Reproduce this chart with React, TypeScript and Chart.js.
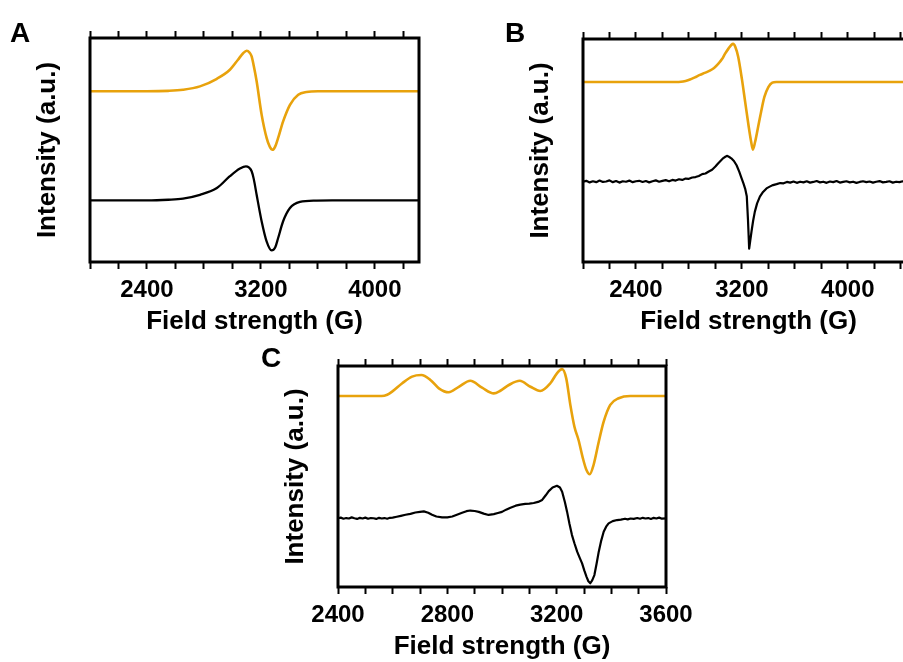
import React, { useEffect, useRef } from 'react';
import { Chart, registerables } from 'chart.js';

Chart.register(...registerables);

const ORANGE = '#E8A20C';
const BLACK = '#000000';
const FONT = "'Liberation Sans', Arial, Helvetica, sans-serif";

// ---------- Panel A ----------
const aSimField = [2000, 2400, 2550, 2653, 2772, 2891, 2982, 3039, 3075, 3100, 3120, 3135, 3150, 3170, 3205, 3240, 3262, 3282, 3300, 3321, 3356, 3404, 3462, 3520, 3600, 4310];
const aSimIntensity = [76.2, 76.2, 76.4, 76.9, 78.4, 81.8, 85.8, 90.3, 93.2, 94.3, 93.5, 91.8, 87.5, 80.7, 65.8, 55.4, 51.5, 50.1, 51.5, 55.4, 62.8, 70.2, 74.7, 75.9, 76.2, 76.2];
const aExpField = [2000, 2400, 2550, 2653, 2772, 2891, 2982, 3053, 3095, 3115, 3135, 3150, 3170, 3205, 3240, 3275, 3300, 3321, 3356, 3404, 3474, 3591, 3700, 4310];
const aExpIntensity = [27.5, 27.5, 27.8, 28.3, 30.0, 33.0, 38.3, 41.7, 42.7, 42.2, 40.5, 37.0, 30.0, 18.2, 9.2, 5.2, 6.5, 10.7, 18.2, 24.1, 26.8, 27.4, 27.5, 27.5];

// ---------- Panel B ----------
const bSimField = [2000, 2700, 2740, 2775, 2808, 2845, 2883, 2920, 2958, 2990, 3021, 3050, 3072, 3100, 3120, 3134, 3150, 3172, 3200, 3225, 3250, 3270, 3283, 3300, 3320, 3345, 3370, 3400, 3430, 3460, 4500];
const bSimIntensity = [80.7, 80.7, 80.8, 81.2, 81.8, 82.8, 83.9, 84.8, 85.8, 87.0, 88.8, 91.0, 93.3, 95.8, 97.3, 97.8, 96.5, 92.0, 82.1, 71.7, 61.3, 53.9, 50.4, 53.9, 59.8, 67.3, 74.0, 78.4, 80.4, 80.7, 80.7];
const bExpField = [2000, 2025, 2050, 2075, 2100, 2125, 2150, 2175, 2200, 2225, 2250, 2275, 2300, 2325, 2350, 2375, 2400, 2425, 2450, 2475, 2500, 2525, 2550, 2575, 2600, 2625, 2650, 2675, 2700, 2725, 2750, 2775, 2800, 2825, 2850, 2875, 2900, 2925, 2950, 2975, 3000, 3020, 3040, 3060, 3075, 3090, 3105, 3120, 3140, 3160, 3180, 3198, 3213, 3225, 3237, 3246, 3255, 3263, 3273, 3285, 3298, 3315, 3336, 3360, 3386, 3410, 3435, 3462, 3490, 3515, 3540, 3565, 3590, 3615, 3640, 3665, 3690, 3715, 3740, 3765, 3790, 3815, 3840, 3865, 3890, 3915, 3940, 3965, 3990, 4015, 4040, 4065, 4090, 4115, 4140, 4165, 4190, 4215, 4240, 4265, 4290, 4315, 4340, 4365, 4390, 4415, 4440, 4465, 4500];
const bExpIntensity = [36.0, 36.4, 35.7, 36.2, 35.8, 36.5, 35.9, 36.1, 36.6, 35.8, 36.3, 35.6, 36.2, 36.0, 36.5, 35.8, 36.2, 36.4, 35.9, 36.3, 35.7, 36.2, 36.6, 36.0, 36.4, 36.7, 36.2, 36.8, 36.5, 37.1, 36.8, 37.4, 37.3, 37.9, 38.1, 38.6, 39.4, 39.7, 40.6, 41.4, 42.8, 44.2, 45.4, 46.6, 47.2, 47.6, 47.1, 46.5, 45.3, 43.4, 40.5, 37.5, 35.0, 32.8, 29.5, 19.0, 6.0, 9.5, 13.8, 18.5, 22.6, 26.3, 29.3, 31.4, 33.0, 33.8, 34.5, 34.9, 35.4, 35.3, 35.9, 35.6, 36.1, 35.5, 36.0, 35.7, 36.2, 35.6, 35.9, 36.3, 35.7, 36.0, 35.5, 36.1, 35.8, 36.3, 35.6, 35.9, 36.2, 35.7, 36.0, 35.5, 35.9, 36.2, 35.8, 36.1, 35.6, 36.0, 36.3, 35.7, 35.9, 36.2, 35.6, 36.0, 35.8, 36.2, 35.7, 36.0, 35.8];

// ---------- Panel C ----------
const cSimField = [2400, 2560, 2580, 2598, 2635, 2671, 2705, 2738, 2769, 2805, 2842, 2884, 2927, 2970, 2994, 3025, 3065, 3104, 3140, 3177, 3201, 3220, 3235, 3250, 3265, 3280, 3296, 3309, 3321, 3335, 3354, 3372, 3396, 3427, 3469, 3600];
const cSimIntensity = [86.4, 86.4, 87.0, 88.4, 92.2, 95.2, 95.9, 93.7, 89.9, 88.1, 90.6, 93.3, 90.2, 87.6, 88.8, 91.4, 93.3, 90.6, 88.7, 92.2, 96.7, 98.6, 94.4, 82.4, 72.5, 66.5, 58.2, 52.9, 51.0, 55.2, 65.7, 74.8, 82.4, 85.4, 86.4, 86.4];
const cExpField = [2400, 2410, 2420, 2430, 2440, 2450, 2460, 2470, 2480, 2490, 2500, 2510, 2520, 2530, 2540, 2550, 2560, 2570, 2580, 2590, 2600, 2615, 2630, 2647, 2665, 2683, 2700, 2714, 2730, 2744, 2760, 2781, 2800, 2818, 2835, 2854, 2870, 2884, 2900, 2915, 2933, 2951, 2970, 2985, 3000, 3015, 3031, 3050, 3067, 3085, 3100, 3116, 3132, 3147, 3160, 3171, 3185, 3201, 3212, 3220, 3230, 3238, 3247, 3256, 3265, 3275, 3284, 3293, 3301, 3309, 3316, 3323, 3330, 3338, 3346, 3354, 3363, 3372, 3381, 3390, 3405, 3421, 3435, 3450, 3460, 3470, 3482, 3495, 3505, 3515, 3525, 3535, 3545, 3555, 3565, 3575, 3585, 3600];
const cExpIntensity = [31.1, 31.4, 30.9, 31.2, 31.0, 31.5, 31.1, 30.8, 31.3, 31.0, 31.4, 30.9, 31.2, 31.1, 30.8, 31.3, 31.0, 31.2, 30.9, 31.3, 31.4, 31.8, 32.2, 32.7, 33.1, 33.7, 34.0, 34.2, 33.6, 32.7, 31.9, 31.5, 31.5, 31.9, 32.7, 33.6, 34.3, 34.6, 34.4, 34.0, 33.2, 32.6, 33.0, 33.5, 34.0, 35.0, 35.9, 36.8, 37.3, 37.6, 37.7, 38.0, 38.5, 39.4, 41.5, 43.4, 45.0, 45.8, 45.0, 43.1, 38.5, 34.1, 28.5, 23.5, 19.8, 16.0, 13.3, 10.7, 7.5, 4.7, 2.6, 1.7, 3.0, 5.4, 10.5, 16.0, 21.0, 25.0, 27.3, 28.8, 29.8, 30.3, 30.5, 30.9, 30.6, 31.0, 30.8, 31.2, 30.9, 31.3, 31.0, 31.2, 30.8, 31.3, 31.0, 31.4, 30.9, 31.1];

// ---------- Axis labels ----------
const xTitle = 'Field strength (G)';
const yTitle = 'Intensity (a.u.)';
const abLabelStep = 800;
const cLabelStep = 400;

type Series = { x: number[]; y: number[]; color: string; width: number; noisy: boolean };
type Spec = {
  letter: string;
  box: [number, number, number, number]; // left, top, right, bottom (page px)
  xMin: number;
  xMax: number;
  minorStep: number;
  labelStep: number;
  series: Series[];
  letterPos: [number, number];
};

const PAD_L = 62;
const PAD_T = 20;
const PAD_R = 40;
const PAD_B = 80;

const framePlugin = {
  id: 'frame',
  afterDatasetsDraw(chart: any) {
    const { ctx, chartArea: a } = chart;
    ctx.save();
    ctx.strokeStyle = '#000';
    ctx.lineWidth = 3;
    ctx.strokeRect(a.left, a.top, a.right - a.left, a.bottom - a.top);
    ctx.restore();
  },
};

const specs: Spec[] = [
  {
    letter: 'A',
    box: [90, 38, 419, 262],
    xMin: 2000,
    xMax: 4310,
    minorStep: 200,
    labelStep: abLabelStep,
    series: [
      { x: aSimField, y: aSimIntensity, color: ORANGE, width: 2.6, noisy: false },
      { x: aExpField, y: aExpIntensity, color: BLACK, width: 2.3, noisy: false },
    ],
    letterPos: [10, 19],
  },
  {
    letter: 'B',
    box: [583, 39, 914, 262],
    xMin: 2000,
    xMax: 4500,
    minorStep: 200,
    labelStep: abLabelStep,
    series: [
      { x: bSimField, y: bSimIntensity, color: ORANGE, width: 2.6, noisy: false },
      { x: bExpField, y: bExpIntensity, color: BLACK, width: 2.2, noisy: true },
    ],
    letterPos: [505, 19],
  },
  {
    letter: 'C',
    box: [338, 366, 666, 587],
    xMin: 2400,
    xMax: 3600,
    minorStep: 100,
    labelStep: cLabelStep,
    series: [
      { x: cSimField, y: cSimIntensity, color: ORANGE, width: 2.6, noisy: false },
      { x: cExpField, y: cExpIntensity, color: BLACK, width: 2.2, noisy: true },
    ],
    letterPos: [261, 344],
  },
];

function Panel({ spec }: { spec: Spec }) {
  const ref = useRef<HTMLCanvasElement | null>(null);
  const [L, T, R, B] = spec.box;
  const w = R - L + PAD_L + PAD_R;
  const h = B - T + PAD_T + PAD_B;

  useEffect(() => {
    if (!ref.current) return;
    const tickFont = { family: FONT, size: 24, weight: 'bold' as const, lineHeight: 1 };
    const titleFont = { family: FONT, size: 26, weight: 'bold' as const, lineHeight: 1 };
    const chart = new Chart(ref.current, {
      type: 'line',
      data: {
        datasets: spec.series.map((s) => ({
          data: s.x.map((x, i) => ({ x, y: s.y[i] })),
          borderColor: s.color,
          borderWidth: s.width,
          pointRadius: 0,
          fill: false,
          borderJoinStyle: 'round' as const,
          ...(s.noisy ? { tension: 0 } : { cubicInterpolationMode: 'monotone' as const }),
        })),
      },
      options: {
        responsive: false,
        animation: false,
        devicePixelRatio: 1,
        events: [],
        layout: { padding: { left: 0, top: PAD_T - 8, right: PAD_R, bottom: 0 } },
        plugins: { legend: { display: false }, tooltip: { enabled: false } },
        scales: {
          x: {
            type: 'linear',
            position: 'bottom',
            min: spec.xMin,
            max: spec.xMax,
            afterFit: (s: any) => {
              s.height = PAD_B;
              s.paddingLeft = 0;
              s.paddingRight = 0;
            },
            ticks: {
              stepSize: spec.minorStep,
              includeBounds: false,
              autoSkip: false,
              maxRotation: 0,
              padding: 9,
              color: '#000',
              font: tickFont,
              callback: (v: any) => (Number(v) % spec.labelStep === 0 ? String(v) : ''),
            },
            grid: { drawOnChartArea: false, drawTicks: true, tickLength: 7, tickWidth: 2, color: '#000' },
            border: { display: false },
            title: {
              display: true,
              text: xTitle,
              color: '#000',
              font: titleFont,
              padding: { top: 0, bottom: 7 },
            },
          },
          xTop: {
            type: 'linear',
            position: 'top',
            min: spec.xMin,
            max: spec.xMax,
            afterFit: (s: any) => {
              s.height = 8;
              s.paddingLeft = 0;
              s.paddingRight = 0;
            },
            ticks: { display: false, stepSize: spec.minorStep, includeBounds: false, autoSkip: false },
            grid: { drawOnChartArea: false, drawTicks: true, tickLength: 7, tickWidth: 2, color: '#000' },
            border: { display: false },
          },
          y: {
            type: 'linear',
            position: 'left',
            min: 0,
            max: 100,
            afterFit: (s: any) => {
              s.width = PAD_L;
              s.paddingTop = 0;
              s.paddingBottom = 0;
            },
            ticks: { display: false },
            grid: { display: false },
            border: { display: false },
            title: {
              display: true,
              text: yTitle,
              color: '#000',
              font: titleFont,
              padding: { top: 7, bottom: 0 },
            },
          },
        },
      } as any,
      plugins: [framePlugin],
    });
    return () => chart.destroy();
  }, []);

  return (
    <>
      <canvas
        ref={ref}
        width={w}
        height={h}
        style={{ position: 'absolute', left: L - PAD_L, top: T - PAD_T, width: w, height: h, display: 'block' }}
      />
      <div
        style={{
          position: 'absolute',
          left: spec.letterPos[0],
          top: spec.letterPos[1],
          fontFamily: FONT,
          fontWeight: 'bold',
          fontSize: 28,
          lineHeight: '28px',
          color: '#000',
        }}
      >
        {spec.letter}
      </div>
    </>
  );
}

export default function App() {
  return (
    <div
      style={{
        position: 'fixed',
        left: 0,
        top: 0,
        width: 903,
        height: 662,
        overflow: 'hidden',
        background: '#fff',
      }}
    >
      {specs.map((s) => (
        <Panel key={s.letter} spec={s} />
      ))}
    </div>
  );
}
